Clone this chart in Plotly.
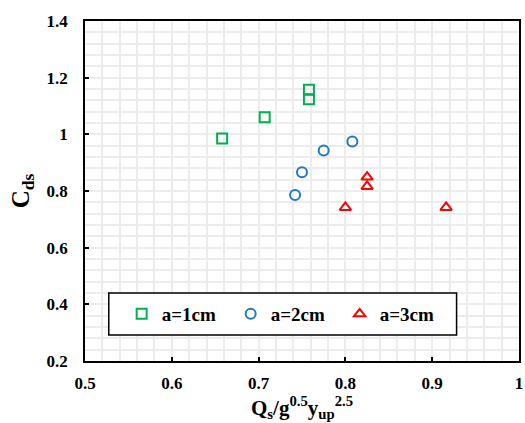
import plotly.graph_objects as go

x_a1 = [0.658, 0.707, 0.758, 0.758]
y_a1 = [0.985, 1.060, 1.157, 1.124]
x_a2 = [0.742, 0.750, 0.775, 0.808]
y_a2 = [0.786, 0.866, 0.943, 0.975]
x_a3 = [0.800, 0.825, 0.825, 0.916]
y_a3 = [0.742, 0.849, 0.816, 0.742]
names = ["a=1cm", "a=2cm", "a=3cm"]

FONT = "Liberation Serif, Times New Roman, serif"
fig = go.Figure()
fig.add_trace(go.Scatter(x=x_a1, y=y_a1, mode="markers", name="<b>" + names[0] + "</b>",
    marker=dict(symbol="square-open", size=10, color="#00b050", line=dict(width=2))))
fig.add_trace(go.Scatter(x=x_a2, y=y_a2, mode="markers", name="<b>" + names[1] + "</b>",
    marker=dict(symbol="circle-open", size=10, color="#1f78c8", line=dict(width=2))))
fig.add_trace(go.Scatter(x=x_a3, y=y_a3, mode="markers", name="<b>" + names[2] + "</b>",
    marker=dict(symbol="triangle-up-open", size=10, color="#ff0000", line=dict(width=2))))

L, B, W, H = 85, 62, 438, 340
fig.add_shape(type="rect", xref="paper", yref="paper",
              x0=(109 - L) / W, x1=(460 - L) / W, y0=(423 - B - 335) / H, y1=(423 - B - 293) / H,
              fillcolor="white", line=dict(color="black", width=1.5), layer="above")

grid = "#ececec"
fig.update_layout(
    width=525, height=423,
    margin=dict(l=L, r=2, t=21, b=B),
    paper_bgcolor="white", plot_bgcolor="white",
    font=dict(family=FONT, color="black"),
    showlegend=True,
    legend=dict(orientation="h", x=(122 - L) / W, y=(423 - B - 314) / H, xanchor="left", yanchor="middle",
                bgcolor="rgba(0,0,0,0)", borderwidth=0,
                font=dict(family=FONT, size=19, color="black"),
                entrywidth=64, entrywidthmode="pixels", itemclick=False),
    xaxis=dict(range=[0.5, 1.0], dtick=0.1, tickformat="~g",
               showline=True, mirror=True, linecolor="black", linewidth=1.5,
               ticks="inside", ticklen=4, tickcolor="black", tickwidth=1.5,
               showgrid=True, gridcolor=grid, gridwidth=2, zeroline=False,
               minor=dict(dtick=0.02, showgrid=True, gridcolor=grid, gridwidth=2, ticks=""),
               tickfont=dict(family=FONT, size=17, color="black", weight="bold"),
               ticklabelstandoff=6, ticklabeloverflow="allow",
               title=dict(text="<b>Q<sub>s</sub>/g<sup>0.5</sup>y<sub>up</sub><sup>2.5</sup></b>",
                          font=dict(family=FONT, size=21, color="black"), standoff=6)),
    yaxis=dict(range=[0.2, 1.4], dtick=0.2, tickformat="~g",
               showline=True, mirror=True, linecolor="black", linewidth=1.5,
               ticks="inside", ticklen=4, tickcolor="black", tickwidth=1.5,
               showgrid=True, gridcolor=grid, gridwidth=2, zeroline=False,
               minor=dict(dtick=0.04, showgrid=True, gridcolor=grid, gridwidth=2, ticks=""),
               tickfont=dict(family=FONT, size=17, color="black", weight="bold"),
               ticklabelstandoff=12,
               title=dict(text="<b>C<sub>ds</sub></b>",
                          font=dict(family=FONT, size=25, color="black"), standoff=10)),
)
fig.write_html("out.html")
